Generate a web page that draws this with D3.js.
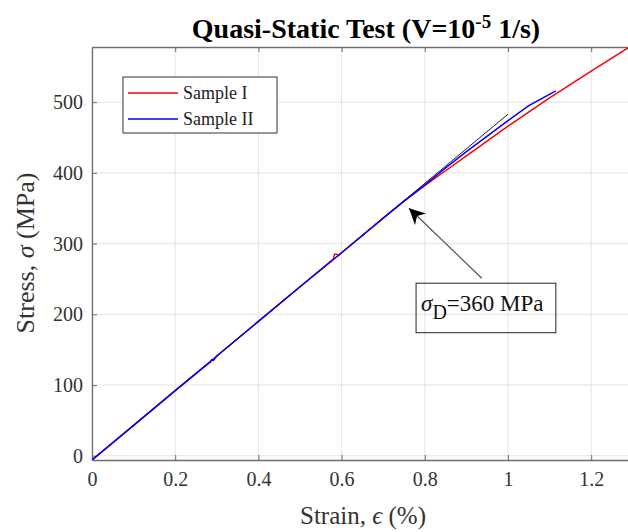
<!DOCTYPE html>
<html>
<head>
<meta charset="utf-8">
<script src="https://cdn.jsdelivr.net/npm/d3@7"></script>
<style>
  body { margin: 0; background: #fff; }
  svg { display: block; }
  text { font-family: "Liberation Serif", serif; }
</style>
</head>
<body>
<div id="chart"></div>
<script>
// Sample I (red)
var strainI = [0, 0.1, 0.2, 0.3, 0.4, 0.5, 0.58, 0.583, 0.588, 0.592, 0.6, 0.7, 0.75, 0.8, 0.85, 0.9, 1.0, 1.1, 1.2, 1.3];
var stressI = [-6, 43, 92, 141, 190, 239, 278, 285, 285, 283, 287, 336, 360, 382, 403, 424, 466, 506, 544, 581];
// Sample II (blue)
var strainII = [0, 0.1, 0.2, 0.285, 0.288, 0.292, 0.3, 0.4, 0.5, 0.6, 0.7, 0.75, 0.8, 0.85, 0.9, 0.95, 1.0, 1.05, 1.115];
var stressII = [-6, 43, 92, 133, 136, 135, 141, 190, 239, 287, 336, 360, 383, 407, 430, 452, 474, 495, 516];
// tangent line
var strainT = [0, 1.0];
var stressT = [-6, 483];

var xTicks = [0, 0.2, 0.4, 0.6, 0.8, 1, 1.2];
var yTicks = [0, 100, 200, 300, 400, 500];
var seriesNames = ['Sample I', 'Sample II'];
var seriesColors = ['#ff0000', '#0000ff'];

// annotation: arrow tail, arrow tip, label box (data units)
var arrowFrom = [0.937, 251];
var arrowTo = [0.762, 350];
var boxCorner = [0.779, 244];
var boxEnd = [1.115, 174];

var W = 628, H = 532;
var svg = d3.select('#chart').append('svg')
    .attr('width', W)
    .attr('height', H);

var plotLeft = 92, plotTop = 47, plotBottom = 460;
var x = d3.scaleLinear().domain([0, 1.3]).range([plotLeft, plotLeft + 416 * 1.3]);
var y = d3.scaleLinear().domain([-6, 578]).range([plotBottom, plotTop]);
var plotRight = x(1.3);

var defs = svg.append('defs');
defs.append('clipPath').attr('id', 'clip')
    .append('rect')
    .attr('x', plotLeft).attr('y', plotTop)
    .attr('width', plotRight - plotLeft).attr('height', plotBottom - plotTop);
defs.append('marker')
    .attr('id', 'head')
    .attr('viewBox', '0 0 10 10')
    .attr('refX', 10).attr('refY', 5)
    .attr('markerWidth', 16).attr('markerHeight', 16)
    .attr('markerUnits', 'userSpaceOnUse')
    .attr('orient', 'auto')
    .append('path')
    .attr('d', 'M0,0 L10,5 L0,10 L3,5 Z')
    .attr('fill', '#000');

// grid
var grid = svg.append('g');
grid.selectAll('.gx').data(xTicks).enter().append('line')
    .attr('x1', d => x(d)).attr('x2', d => x(d))
    .attr('y1', plotTop).attr('y2', plotBottom)
    .attr('stroke', '#e3e3e3').attr('stroke-width', 1);
grid.selectAll('.gy').data(yTicks).enter().append('line')
    .attr('x1', plotLeft).attr('x2', plotRight)
    .attr('y1', d => y(d)).attr('y2', d => y(d))
    .attr('stroke', '#e3e3e3').attr('stroke-width', 1);

// axes
var axisColor = '#6e6e6e';
var xAxis = svg.append('g')
    .attr('transform', 'translate(0,' + plotBottom + ')')
    .call(d3.axisBottom(x).tickValues(xTicks).tickSizeInner(-5).tickSizeOuter(0).tickPadding(12)
        .tickFormat(d3.format('')));
var xTop = svg.append('g')
    .attr('transform', 'translate(0,' + plotTop + ')')
    .call(d3.axisTop(x).tickValues(xTicks).tickSizeInner(-5).tickSizeOuter(0).tickFormat(''));
var yAxis = svg.append('g')
    .attr('transform', 'translate(' + plotLeft + ',0)')
    .call(d3.axisLeft(y).tickValues(yTicks).tickSizeInner(-5).tickSizeOuter(0).tickPadding(9));
[xAxis, xTop, yAxis].forEach(function(g) {
    g.select('.domain').attr('stroke', axisColor).attr('stroke-width', 1.3);
    g.selectAll('.tick line').attr('stroke', axisColor);
    g.selectAll('.tick text')
        .attr('fill', '#333')
        .style('font-family', '"Liberation Serif", serif')
        .style('font-size', '20px');
});

// lines
var plot = svg.append('g').attr('clip-path', 'url(#clip)');
var line = d3.line().x(d => x(d[0])).y(d => y(d[1]));
plot.append('path')
    .datum(d3.zip(strainT, stressT))
    .attr('d', line)
    .attr('fill', 'none').attr('stroke', '#222').attr('stroke-width', 1);
plot.append('path')
    .datum(d3.zip(strainI, stressI))
    .attr('d', line)
    .attr('fill', 'none').attr('stroke', seriesColors[0]).attr('stroke-width', 1.5);
plot.append('path')
    .datum(d3.zip(strainII, stressII))
    .attr('d', line)
    .attr('fill', 'none').attr('stroke', seriesColors[1]).attr('stroke-width', 1.5);

// legend
var lg = svg.append('g').attr('transform', 'translate(123,77)');
lg.append('rect')
    .attr('width', 154).attr('height', 56)
    .attr('fill', '#fff').attr('stroke', '#333').attr('stroke-width', 1);
seriesNames.forEach(function(name, i) {
    var yy = 16 + i * 26;
    lg.append('line')
        .attr('x1', 5).attr('x2', 55).attr('y1', yy).attr('y2', yy)
        .attr('stroke', seriesColors[i]).attr('stroke-width', 1.3);
    lg.append('text')
        .attr('x', 60).attr('y', yy + 6)
        .attr('font-size', '18px').attr('fill', '#222')
        .text(name);
});

// annotation
svg.append('line')
    .attr('x1', x(arrowFrom[0])).attr('y1', y(arrowFrom[1]))
    .attr('x2', x(arrowTo[0])).attr('y2', y(arrowTo[1]))
    .attr('stroke', '#555').attr('stroke-width', 1.2)
    .attr('marker-end', 'url(#head)');
svg.append('rect')
    .attr('x', x(boxCorner[0])).attr('y', y(boxCorner[1]))
    .attr('width', x(boxEnd[0]) - x(boxCorner[0]))
    .attr('height', y(boxEnd[1]) - y(boxCorner[1]))
    .attr('fill', 'none').attr('stroke', '#222').attr('stroke-width', 1);
var at = svg.append('text')
    .attr('x', x(boxCorner[0]) + 5)
    .attr('y', y(boxCorner[1]) + 28)
    .attr('font-size', '23px').attr('fill', '#111');
at.append('tspan').attr('font-style', 'italic').text('σ');
at.append('tspan').attr('dy', 8).attr('font-size', '20px').text('D');
at.append('tspan').attr('dy', -8).text('=360 MPa');

// title
var tt = svg.append('text')
    .attr('x', 366).attr('y', 38)
    .attr('text-anchor', 'middle')
    .attr('font-size', '28px').attr('font-weight', 'bold').attr('fill', '#000');
tt.append('tspan').text('Quasi-Static Test (V=10');
tt.append('tspan').attr('dy', -10).attr('font-size', '19px').text('-5');
tt.append('tspan').attr('dy', 10).text(' 1/s)');

// axis labels
var xl = svg.append('text')
    .attr('x', 363).attr('y', 524)
    .attr('text-anchor', 'middle')
    .attr('font-size', '25px').attr('fill', '#333');
xl.append('tspan').text('Strain, ');
xl.append('tspan').attr('font-style', 'italic').text('ϵ');
xl.append('tspan').text(' (%)');

var yl = svg.append('text')
    .attr('transform', 'translate(34,253) rotate(-90)')
    .attr('text-anchor', 'middle')
    .attr('font-size', '26px').attr('fill', '#333');
yl.append('tspan').text('Stress, ');
yl.append('tspan').attr('font-style', 'italic').text('σ');
yl.append('tspan').text(' (MPa)');
</script>
</body>
</html>
